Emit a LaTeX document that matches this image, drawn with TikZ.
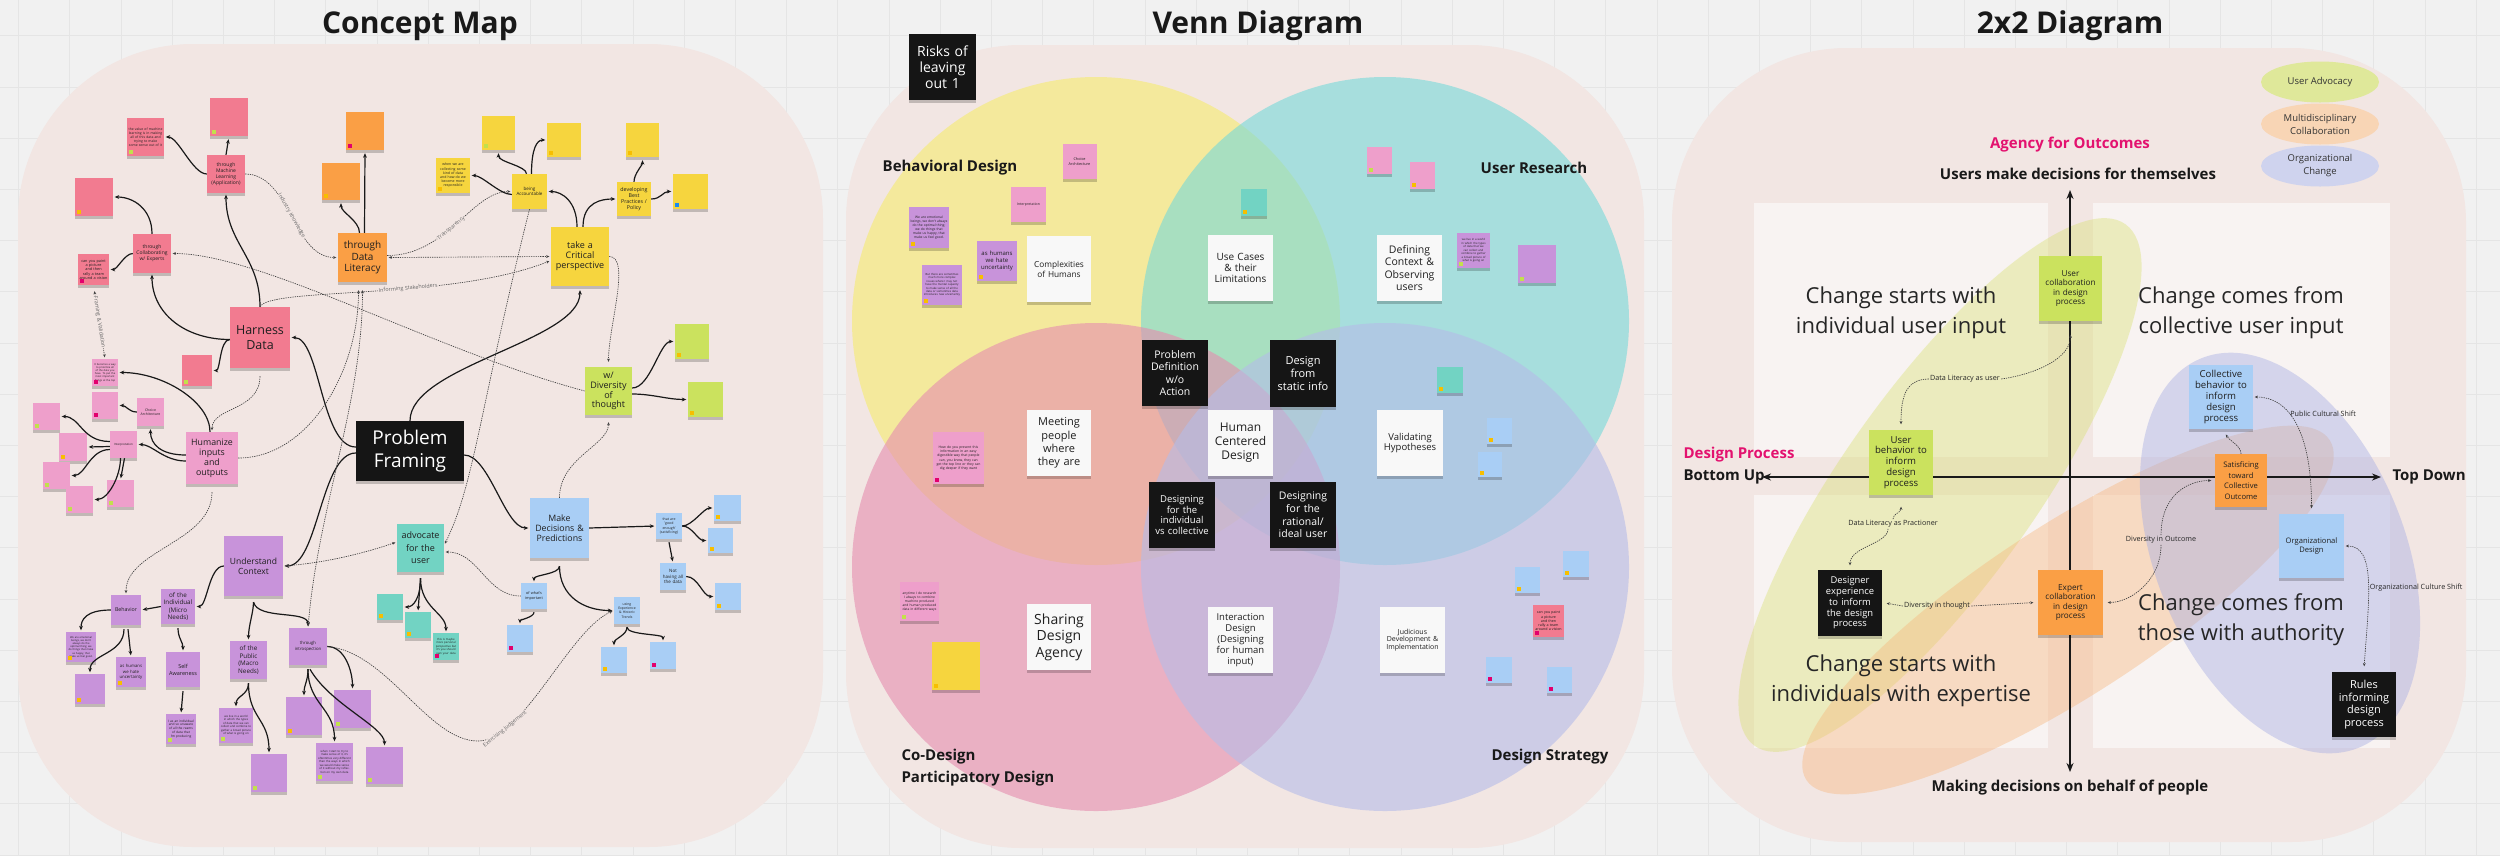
\documentclass[tikz,border=0pt]{standalone}
\usepackage{fontspec}
\setmainfont{Open Sans}
\usetikzlibrary{arrows.meta,shadows,shapes.geometric}
\definecolor{bgc}{HTML}{F1F1F1}
\definecolor{gridc}{HTML}{E5E5E5}
\definecolor{panel}{HTML}{F2E6E3}
\definecolor{cR}{HTML}{F27B90}
\definecolor{cLP}{HTML}{EE9FCB}
\definecolor{cO}{HTML}{FA9F45}
\definecolor{cY}{HTML}{F6D53E}
\definecolor{cL}{HTML}{CBE25E}
\definecolor{cP}{HTML}{C893DA}
\definecolor{cT}{HTML}{72D3C3}
\definecolor{cB}{HTML}{A9CEF5}
\definecolor{cK}{HTML}{151515}
\definecolor{cW}{HTML}{F8F8F8}
\definecolor{tY}{HTML}{F7BE00}
\definecolor{tG}{HTML}{C2E04C}
\definecolor{tM}{HTML}{E2006D}
\definecolor{tB}{HTML}{1C8BF0}
\definecolor{mag}{HTML}{E3126F}
\definecolor{vY}{HTML}{F6EB6E}
\definecolor{vT}{HTML}{76D9D9}
\definecolor{vP}{HTML}{E58CAF}
\definecolor{vL}{HTML}{B5BCE8}
\definecolor{quad}{HTML}{F8F3F2}
\definecolor{eL}{HTML}{D8E070}
\definecolor{eO}{HTML}{F7B57A}
\definecolor{eV}{HTML}{A9AFE3}
\definecolor{lgL}{HTML}{DFE89A}
\definecolor{lgO}{HTML}{F8D5B5}
\definecolor{lgV}{HTML}{CFD3EE}
\tikzset{
 stk/.style={inner sep=0pt,align=center,text=black!88,drop shadow={shadow xshift=0pt,shadow yshift=-2.5pt,opacity=0.2,fill=black}},
 sol/.style={line width=1.2pt,black!90,-{Stealth[length=4.5pt,width=3.8pt]},shorten >=1.5pt},
 dsh/.style={line width=0.65pt,black!75,dash pattern=on 1.3pt off 1pt},
 da/.style={dsh,-{Stealth[length=3.2pt,width=2.8pt]},shorten >=1.5pt},
 dab/.style={dsh,{Stealth[length=3.2pt,width=2.8pt]}-{Stealth[length=3.2pt,width=2.8pt]},shorten >=1.5pt,shorten <=1.5pt},
 dra/.style={dsh,{Stealth[length=3.2pt,width=2.8pt]}-,shorten <=1.5pt},
 lbl/.style={font={\fontsize{5.4}{6}\selectfont},text=black!60,fill=panel,inner sep=0.6pt},
 ltwo/.style={font={\fontsize{7.2}{8}\selectfont},text=black!85,inner sep=1.2pt},
 ttl/.style={font={\fontsize{30}{34}\selectfont\bfseries},text=black!90},
 hdb/.style={font={\fontsize{15}{18}\selectfont\bfseries},text=black!90},
 big/.style={font={\fontsize{22}{30}\selectfont},align=center,text=black!85},
 axarr/.style={line width=1.8pt,black!90,{Stealth[length=9pt,width=7pt]}-{Stealth[length=9pt,width=7pt]}},
 lg/.style={ellipse,minimum width=118pt,minimum height=41pt,inner sep=0pt,align=center,font={\fontsize{9.5}{13}\selectfont},text=black!80},
}
\newcommand{\stk}[9]{\pgfmathsetmacro{\tw}{#4-3}\node[stk,fill=#6,minimum width=#4pt,minimum height=#5pt,text width=\tw pt,font={\fontsize{#7}{#8}\selectfont}] (#1) at (#2,#3) {#9};}
\newcommand{\bstk}[8]{\pgfmathsetmacro{\tw}{#4-3}\node[stk,fill=cK,text=white,minimum width=#4pt,minimum height=#5pt,text width=\tw pt,font={\fontsize{#6}{#7}\selectfont}] (#1) at (#2,#3) {#8};}
\newcommand{\tg}[2]{\fill[#2] ([xshift=2.5pt,yshift=2.5pt]#1.south west) rectangle ++(4,-4);}
\newcommand{\tstk}[8]{\stk{#1}{#2}{#3}{#4}{#5}{#6}{2.8}{3.4}{#8}\tg{#1}{#7}}
\begin{document}
\begin{tikzpicture}[x=1pt,y=-1pt]
\useasboundingbox (0,0) rectangle (2500,855);
\fill[bgc] (0,0) rectangle (2500,855);
\foreach \i in {0,...,48} {\draw[gridc,line width=0.6pt] ({18.5+\i*51.2},0) -- ({18.5+\i*51.2},855);}
\foreach \j in {0,...,16} {\draw[gridc,line width=0.6pt] (0,{35.6+\j*51.2}) -- (2500,{35.6+\j*51.2});}
% panels
\fill[panel,rounded corners=175pt] (18,44) rectangle (823,847);
\fill[panel,rounded corners=175pt] (846,45) rectangle (1644,848);
\fill[panel,rounded corners=175pt] (1672,48) rectangle (2466,842);
% titles
\node[ttl] (t1) at (420,26) {Concept Map};
\node[ttl] (t2) at (1258,26) {Venn Diagram};
\node[ttl] (t3) at (2070,26) {2x2 Diagram};

%% ================= CONCEPT MAP =================
\tstk{n1}{229}{117}{38}{38}{cR}{tG}{}
\stk{n2}{145.5}{137}{37}{38}{cR}{3.4}{4.1}{the value of machine learning is in making all of this data and trying to make some sense out of it}\tg{n2}{tG}
\stk{ml}{226}{174}{38}{38}{cR}{5}{6}{through\\Machine\\Learning\\(Application)}
\tstk{n4}{94}{197}{38}{38}{cR}{tY}{}
\stk{collab}{152}{253.5}{38}{39}{cR}{5}{6}{through\\Collaborating\\w/ Experts}
\stk{n6}{93.5}{269.5}{31}{31}{cR}{3.8}{4.4}{can you paint a picture and then rally a team around a vision}\tg{n6}{tM}
\tstk{n7}{365}{131}{38}{38}{cO}{tM}{}
\tstk{n8}{341}{181.5}{38}{37}{cO}{tY}{}
\stk{dl}{362.5}{257.5}{49}{49}{cO}{10}{11.5}{through\\Data\\Literacy}
\tstk{n10}{498.5}{133}{33}{34}{cY}{tG}{}
\tstk{n11}{564}{140}{34}{34}{cY}{tY}{}
\stk{n12}{453}{175.5}{34}{35}{cY}{3.5}{4.2}{when we are collecting some kind of data and how do we become more responsible}\tg{n12}{tY}
\stk{ba}{529.5}{191.5}{35}{35}{cY}{4.5}{5.5}{being\\Accountable}
\tstk{n14}{642.5}{140}{33}{34}{cY}{tY}{}
\stk{bp}{634}{199}{34}{34}{cY}{5.3}{6.2}{developing\\Best\\Practices /\\Policy}
\tstk{n16}{690.5}{191.5}{35}{35}{cY}{tB}{}
\stk{tcp}{580}{256.5}{58}{59}{cY}{9}{10}{take a\\Critical\\perspective}
\stk{hd}{260}{337.5}{60}{61}{cR}{12.5}{14.5}{Harness\\Data}
\tstk{n19}{197}{370.5}{30}{31}{cR}{tG}{}
\stk{n20}{105}{372.5}{26}{27}{cLP}{2.6}{3.2}{It becomes a way to prioritize all of the data you have. To put the most important things at the top}\tg{n20}{tM}
\tstk{n21}{105}{405.5}{26}{27}{cLP}{tM}{}
\stk{ca}{150.5}{412}{27}{28}{cLP}{3.5}{4.3}{Choice\\Architecture}
\tstk{n23}{46.5}{416.5}{27}{27}{cLP}{tG}{}
\stk{interp}{123.5}{444.5}{27}{27}{cLP}{2.9}{3.5}{Interpretation}
\tstk{n29}{73}{447}{28}{28}{cLP}{tY}{}
\tstk{n30}{56.5}{475.5}{27}{27}{cLP}{tG}{}
\tstk{n31}{79.5}{499.5}{27}{27}{cLP}{tG}{}
\tstk{n32}{120.5}{493.5}{27}{27}{cLP}{tG}{}
\stk{hum}{212}{458}{52}{52}{cLP}{8.8}{10}{Humanize\\inputs\\and\\outputs}
\bstk{pf}{410}{451}{108}{60}{19}{23}{Problem\\Framing}
\stk{div}{608.5}{391}{47}{48}{cL}{9}{9.8}{w/\\Diversity\\of\\thought}
\tstk{n24}{692}{341.5}{34}{35}{cL}{tY}{}
\tstk{n25}{705.5}{399.5}{35}{35}{cL}{tY}{}
\stk{uc}{253.5}{566}{59}{60}{cP}{8.5}{10}{Understand\\Context}
\stk{adv}{420.5}{548}{47}{48}{cT}{9}{12.5}{advocate\\for the\\user}
\stk{md}{559.5}{528}{59}{60}{cB}{8.8}{10}{Make\\Decisions \&\\Predictions}
\stk{ge}{669}{526}{26}{26}{cB}{3.5}{4.3}{that are\\'good\\enough'\\(satisficing)}
\tstk{n39}{727.5}{508}{27}{26}{cB}{tY}{}
\tstk{n40}{720.5}{540.5}{25}{25}{cB}{tY}{}
\stk{nh}{673}{576.5}{26}{27}{cB}{4.5}{5.6}{Not\\having all\\the data}
\tstk{n42}{728}{596.5}{26}{27}{cB}{tY}{}
\stk{wi}{534}{596}{26}{26}{cB}{3.8}{4.8}{of what's\\important}
\tstk{n44}{520}{638.5}{26}{27}{cB}{tM}{}
\stk{ue}{627}{610.5}{26}{27}{cB}{3.4}{4.3}{using\\Experience\\\& Historic\\Trends}
\tstk{n46}{614}{660}{26}{26}{cB}{tY}{}
\tstk{n47}{663}{655.5}{26}{27}{cB}{tM}{}
\tstk{n48}{390}{607}{26}{26}{cT}{tY}{}
\tstk{n49}{418}{625}{26}{26}{cT}{tY}{}
\stk{n50}{446}{646.5}{26}{27}{cT}{2.8}{3.4}{this is maybe more personal perspective but it's you should own your data}\tg{n50}{tM}
\stk{beh}{126}{610}{30}{30}{cP}{5.3}{6.5}{Behavior}
\stk{ind}{178}{606.5}{34}{35}{cP}{6.3}{7.4}{of the\\Individual\\(Micro\\Needs)}
\stk{n53}{81}{647}{30}{30}{cP}{2.6}{3.2}{We are emotional beings, we don't always do the optimal thing; we do things that make us happy, that make us feel good.}\tg{n53}{tY}
\tstk{n54}{90}{689}{30}{30}{cP}{tY}{}
\stk{n55}{131}{672}{30}{30}{cP}{4.3}{5.3}{as humans\\we hate\\uncertainty}\tg{n55}{tY}
\stk{sa}{183}{669.5}{34}{35}{cP}{5.5}{7}{Self\\Awareness}
\stk{n57}{181}{729}{30}{30}{cP}{3.2}{3.9}{I as an individual and so unaware of all the reams of data that I'm producing}\tg{n57}{tG}
\stk{pub}{248.5}{660}{37}{38}{cP}{6.3}{7.5}{of the\\Public\\(Macro\\Needs)}
\stk{intro}{308}{646.5}{38}{37}{cP}{4.3}{5.5}{through\\introspection}
\stk{n60}{236}{725.5}{34}{35}{cP}{2.8}{3.5}{we live in a world in which the types of data that we can collect and combine to gather a broad picture of what is going on}\tg{n60}{tG}
\tstk{n61}{269}{773}{36}{38}{cP}{tG}{}
\tstk{n62}{304}{716}{36}{38}{cP}{tY}{}
\tstk{n63}{352.5}{709}{37}{38}{cP}{tG}{}
\stk{n64}{334.5}{762}{37}{38}{cP}{2.8}{3.5}{when I start to try to make sense of it, it's oftentimes very different than the ways in which we would make sense of it without my reflection on my own data}\tg{n64}{tG}
\tstk{n65}{384.5}{765.5}{37}{37}{cP}{tG}{}

% solid connectors
\draw[sol,shorten >=3pt] (ml.north) -- (n1.south);
\draw[sol] (ml.west) .. controls +(-14,0) and +(14,0) .. (n2.east);
\draw[sol] (hd.north) .. controls +(0,-50) and +(0,50) .. (ml.south);
\draw[sol] ([yshift=-2pt]hd.west) .. controls +(-45,0) and +(0,40) .. (collab.south);
\draw[sol] ([yshift=-2pt]hd.west) .. controls +(-10,0) and +(8,0) .. (n19.east);
\draw[sol] (collab.north) .. controls +(0,-25) and +(20,0) .. (n4.east);
\draw[sol] (collab.west) .. controls +(-8,0) and +(8,0) .. (n6.east);
\draw[sol,shorten >=3pt] ([xshift=2pt]dl.north) -- (n7.south);
\draw[sol,shorten >=3pt] ([xshift=-3pt]dl.north) .. controls +(0,-12) and +(0,12) .. (n8.south);
\draw[sol] ([xshift=-3pt]tcp.north) .. controls +(0,-25) and +(15,0) .. (ba.east);
\draw[sol] ([xshift=3pt]tcp.north) .. controls +(0,-25) and +(-15,0) .. (bp.west);
\draw[sol] ([yshift=-3pt]ba.west) .. controls +(-12,0) and +(12,0) .. (n12.east);
\draw[sol,shorten >=3pt] ([xshift=-3pt]ba.north) .. controls +(0,-8) and +(0,12) .. (n10.south);
\draw[sol] ([xshift=2pt]ba.north) .. controls +(0,-25) and +(-10,0) .. (n11.west);
\draw[sol,shorten >=3pt] (bp.north) .. controls +(0,-8) and +(0,8) .. (n14.south);
\draw[sol] (bp.east) .. controls +(10,0) and +(-10,0) .. (n16.west);
\draw[sol] ([yshift=4pt]pf.west) .. controls +(-35,0) and +(30,0) .. (hd.east);
\draw[sol] ([yshift=-2pt]pf.west) .. controls +(-35,0) and +(35,0) .. (uc.east);
\draw[sol,shorten >=4pt] (pf.north) .. controls +(0,-55) and +(0,55) .. (tcp.south);
\draw[sol] ([yshift=-4pt]pf.east) .. controls +(25,0) and +(-25,0) .. (md.west);
\draw[sol] ([xshift=-2pt]hum.north) .. controls +(0,-30) and +(45,0) .. (n20.east);
\draw[sol,shorten >=3pt] ([yshift=3pt]hum.west) .. controls +(-25,0) and +(0,18) .. (ca.south);
\draw[sol] ([yshift=-3pt]hum.west) .. controls +(-22,0) and +(15,0) .. (interp.east);
\draw[sol] (ca.west) .. controls +(-8,0) and +(8,0) .. (n21.east);
\draw[sol] ([yshift=-2pt]interp.west) -- (n29.east);
\draw[sol] ([yshift=3pt]interp.west) .. controls +(-28,0) and +(20,0) .. (n23.east);
\draw[sol] ([yshift=-5pt]interp.west) .. controls +(-20,0) and +(15,0) .. (n30.east);
\draw[sol] ([xshift=-3pt]interp.south) .. controls +(0,18) and +(15,0) .. (n31.east);
\draw[sol] ([xshift=1pt]interp.south) -- (n32.north);
\draw[sol] (uc.west) .. controls +(-15,0) and +(12,0) .. (ind.east);
\draw[sol] ([yshift=-6pt]uc.south) .. controls +(0,10) and +(0,-15) .. (pub.north);
\draw[sol] ([yshift=-6pt]uc.south) .. controls +(5,18) and +(0,-18) .. (intro.north);
\draw[sol] (ind.west) -- (beh.east);
\draw[sol] ([yshift=-4pt]ind.south) .. controls +(0,10) and +(0,-10) .. (sa.north);
\draw[sol] (beh.west) .. controls +(-25,0) and +(0,-12) .. (n53.north);
\draw[sol] ([xshift=-2pt,yshift=-4pt]beh.south) .. controls +(0,25) and +(0,-20) .. (n54.north);
\draw[sol] ([xshift=2pt,yshift=-4pt]beh.south) -- (n55.north);
\draw[sol] ([yshift=-4pt]sa.south) -- (n57.north);
\draw[sol] ([yshift=-4pt]pub.south) .. controls +(0,12) and +(0,-12) .. (n60.north);
\draw[sol] ([yshift=-4pt]pub.south) .. controls +(0,35) and +(0,-35) .. (n61.north);
\draw[sol] ([yshift=-4pt]intro.south) .. controls +(0,12) and +(0,-12) .. (n62.north);
\draw[sol] (intro.east) .. controls +(18,0) and +(0,-18) .. (n63.north);
\draw[sol] ([yshift=-4pt]intro.south) .. controls +(0,35) and +(0,-35) .. (n64.north);
\draw[sol] ([xshift=2pt,yshift=-4pt]intro.south) .. controls +(20,35) and +(0,-20) .. (n65.north);
\draw[sol] ([yshift=-6pt]adv.south) .. controls +(0,20) and +(10,0) .. (n48.east);
\draw[sol] ([yshift=-6pt]adv.south) -- (n49.north);
\draw[sol] ([yshift=-6pt]adv.south) .. controls +(0,30) and +(0,-20) .. (n50.north);
\draw[sol] (md.east) -- (ge.west);
\draw[sol] (ge.east) .. controls +(10,0) and +(-10,0) .. (n39.west);
\draw[sol] (ge.east) .. controls +(10,0) and +(-10,0) .. (n40.west);
\draw[sol] ([yshift=-3pt]ge.south) -- (nh.north);
\draw[sol] (nh.east) .. controls +(12,0) and +(-12,0) .. (n42.west);
\draw[sol] ([yshift=-8pt]md.south) .. controls +(0,8) and +(0,-8) .. (wi.north);
\draw[sol] ([yshift=-8pt]md.south) .. controls +(0,30) and +(-30,0) .. (ue.west);
\draw[sol] ([yshift=-3pt]wi.south) .. controls +(0,5) and +(0,-5) .. (n44.north);
\draw[sol] ([yshift=-3pt]ue.south) .. controls +(0,8) and +(0,-8) .. (n46.north);
\draw[sol] ([yshift=-3pt]ue.south) .. controls +(0,8) and +(0,-8) .. (n47.north);
\draw[sol] ([yshift=3pt]div.east) .. controls +(18,0) and +(-15,0) .. (n24.west);
\draw[sol] ([yshift=-3pt]div.east) .. controls +(20,0) and +(-20,0) .. (n25.west);

% dashed connectors
\draw[da] (ml.east) .. controls +(45,0) and +(-45,0) .. node[lbl,sloped,pos=0.5]{Industry Knowledge} (dl.west);
\draw[dra] (collab.east) .. controls +(90,0) and +(-150,-40) .. (div.west);
\draw[dab] (dl.east) -- (tcp.west);
\draw[da] ([yshift=2pt]dl.east) .. controls +(60,0) and +(-40,0) .. node[lbl,sloped,pos=0.45]{Transparency} (ba.west);
\draw[da] (hd.north) .. controls +(10,-20) and +(-100,40) .. node[lbl,sloped,pos=0.6]{Informing Stakeholders} ([yshift=-4pt]tcp.west);
\draw[da,shorten >=5pt] (tcp.east) .. controls +(22,0) and +(0,-40) .. (div.north);
\draw[da] (ba.south) .. controls +(-50,200) and +(30,-60) .. ([yshift=3pt]adv.east);
\draw[dab,shorten <=8pt] (dl.south) .. controls +(0,120) and +(10,-120) .. (intro.north);
\draw[da,shorten >=8pt] (hum.east) .. controls +(70,0) and +(0,90) .. ([xshift=-4pt]dl.south);
\draw[da] ([yshift=-8pt]hd.south) .. controls +(0,35) and +(0,-25) .. (hum.north);
\draw[da] ([yshift=-8pt]hum.south) .. controls +(0,50) and +(0,-45) .. (beh.north);
\draw[dab,shorten <=6pt] (n6.south) -- node[lbl,sloped]{Framing \& Validation} (n20.north);
\draw[dab] (uc.east) .. controls +(40,-3) and +(-35,12) .. ([yshift=6pt]adv.west);
\draw[dra] ([yshift=-4pt]adv.east) .. controls +(35,0) and +(-35,0) .. (wi.west);
\coordinate (jd) at (478,741);
\draw[dsh] (intro.east) .. controls +(60,5) and +(-50,0) .. (jd);
\draw[da] (jd) .. controls +(45,0) and +(-45,20) .. node[lbl,sloped,pos=0.2]{Exercising Judgement} (ue.west);
\draw[da,shorten >=7pt] (md.north) .. controls +(0,-40) and +(0,30) .. (div.south);

%% ================= VENN =================
\fill[vY,fill opacity=0.6] (1096,321) circle[radius=244];
\fill[vT,fill opacity=0.6] (1385,321) circle[radius=244];
\fill[vP,fill opacity=0.6] (1096,567) circle[radius=244];
\fill[vL,fill opacity=0.6] (1385,567) circle[radius=244];
\bstk{risk}{942.5}{67}{67}{66}{14}{16}{Risks of\\leaving\\out 1}
\node[hdb] (vbd) at (950,168) {Behavioral Design};
\node[hdb] (vur) at (1534,168) {User Research};
\node[hdb,anchor=west] (vcd) at (898,757) {Co-Design};
\node[hdb,anchor=west] (vpd) at (898,779) {Participatory Design};
\node[hdb] (vds) at (1550,757) {Design Strategy};
\stk{ca2}{1079.5}{161.5}{34}{35}{cLP}{3.8}{4.8}{Choice\\Architecture}
\stk{int2}{1028.5}{204.5}{35}{35}{cLP}{3.5}{4.3}{Interpretation}
\stk{v1}{929}{227.5}{40}{41}{cP}{3.3}{4}{We are emotional beings, we don't always do the optimal thing; we do things that make us happy, that make us feel good.}\tg{v1}{tY}
\stk{v2}{997}{261}{40}{40}{cP}{6}{7}{as humans\\we hate\\uncertainty}\tg{v2}{tY}
\stk{v3}{942}{285}{40}{40}{cP}{2.8}{3.4}{But there are sometimes much more complex issues where I may not have the mental capacity to make sense of all the data or sometimes data introduces new uncertainty}\tg{v3}{tY}
\tstk{v4}{1254}{202.5}{26}{27}{cT}{tY}{}
\tstk{v5}{1379.5}{160.5}{25}{27}{cLP}{tG}{}
\tstk{v6}{1422.5}{175.5}{25}{27}{cLP}{tY}{}
\stk{v7}{1473.5}{250.5}{33}{35}{cP}{2.8}{3.5}{we live in a world in which the types of data that we can collect and combine to gather a broad picture of what is going on}\tg{v7}{tG}
\tstk{v8}{1537}{264}{38}{38}{cP}{tG}{}
\tstk{v9}{1450}{380}{26}{26}{cT}{tY}{}
\tstk{v10}{1499.5}{431}{25}{26}{cB}{tY}{}
\tstk{v11}{1490}{464.5}{24}{25}{cB}{tY}{}
\tstk{v12}{1576}{564}{26}{26}{cB}{tY}{}
\tstk{v13}{1527.5}{580}{25}{26}{cB}{tY}{}
\stk{v14}{1548.5}{621}{31}{32}{cR}{3.6}{4.3}{can you paint a picture and then rally a team around a vision}\tg{v14}{tM}
\tstk{v15}{1499}{670}{26}{26}{cB}{tM}{}
\tstk{v16}{1559.5}{680}{25}{26}{cB}{tM}{}
\stk{v17}{958.5}{458}{51}{52}{cLP}{3.4}{4.3}{How do you present this information in an easy digestible way that people can, you know, they can get the top line or they can dig deeper if they want}\tg{v17}{tM}
\stk{v18}{919.5}{601.5}{39}{39}{cLP}{3.3}{4.1}{anytime I do research I always to combine machine produced and human produced data in different ways}\tg{v18}{tG}
\tstk{v19}{956}{666}{48}{48}{cY}{tY}{}
\stk{cplx}{1059}{269}{64}{66}{cW}{8.3}{10}{Complexities\\of Humans}
\stk{usec}{1240.5}{268}{65}{66}{cW}{10}{11.2}{Use Cases\\\& their\\Limitations}
\stk{defc}{1409.5}{268}{65}{66}{cW}{10.5}{12.5}{Defining\\Context \&\\Observing\\users}
\bstk{pdef}{1175}{373}{66}{66}{10.5}{12.6}{Problem\\Definition\\w/o\\Action}
\bstk{dsta}{1303}{373.5}{66}{67}{11}{13}{Design\\from\\static info}
\stk{meet}{1059}{443}{64}{66}{cW}{11}{13.3}{Meeting\\people\\where\\they are}
\stk{hcd}{1240.5}{443}{65}{66}{cW}{12}{14}{Human\\Centered\\Design}
\stk{valh}{1410}{443}{66}{66}{cW}{9.5}{10.7}{Validating\\Hypotheses}
\bstk{dind}{1182}{515}{66}{66}{9.5}{10.7}{Designing\\for the\\individual\\vs collective}
\bstk{drat}{1303}{515}{66}{66}{10.5}{12.6}{Designing\\for the\\rational/\\ideal user}
\stk{shar}{1059}{637}{64}{66}{cW}{14}{16.5}{Sharing\\Design\\Agency}
\stk{intd}{1240.5}{640}{65}{66}{cW}{9.5}{11}{Interaction\\Design\\(Designing\\for human\\input)}
\stk{judi}{1412.5}{640}{65}{66}{cW}{7}{7.8}{Judicious\\Development \&\\Implementation}

%% ================= 2x2 =================
\fill[quad] (1754,203) rectangle (2048,457);
\fill[quad] (2093,203) rectangle (2390,457);
\fill[quad] (1754,495) rectangle (2048,748);
\fill[quad] (2093,495) rectangle (2390,748);
\fill[eL,fill opacity=0.4,rotate around={54.6:(1940,485)}] (1940,485) ellipse [x radius=320,y radius=97];
\fill[eO,fill opacity=0.4,rotate around={33:(2068,610)}] (2068,610) ellipse [x radius=312,y radius=85];
\fill[eV,fill opacity=0.45,rotate around={-68:(2280,553)}] (2280,553) ellipse [x radius=210,y radius=125];
\node[lg,fill=lgL] (lg1) at (2320,82) {User Advocacy};
\node[lg,fill=lgO] (lg2) at (2320,124) {Multidisciplinary\\Collaboration};
\node[lg,fill=lgV] (lg3) at (2320,166) {Organizational\\Change};
\node[hdb,text=mag] (ag) at (2070,145) {Agency for Outcomes};
\node[hdb] (umd) at (2078,174) {Users make decisions for themselves};
\node[hdb] (mdb) at (2070,788) {Making decisions on behalf of people};
\node[hdb,text=mag,anchor=west] (dp) at (1680,455) {Design Process};
\node[hdb,anchor=west] (bu) at (1680,477) {Bottom Up};
\node[hdb,anchor=west] (tdn) at (2389,477) {Top Down};
\coordinate (vt) at (2070,190);
\coordinate (vb) at (2070,772);
\coordinate (hl) at (1762,477);
\coordinate (hr) at (2381,477);
\draw[axarr] (vb) -- (vt);
\draw[axarr] (hl) -- (hr);
\node[big] (q1) at (1901,313) {Change starts with\\individual user input};
\node[big] (q2) at (2241,313) {Change comes from\\collective user input};
\node[big] (q3) at (1901,681) {Change starts with\\individuals with expertise};
\node[big] (q4) at (2241,620) {Change comes from\\those with authority};
\stk{uc2}{2070.5}{288.5}{63}{65}{cL}{8.2}{9.6}{User\\collaboration\\in design\\process}
\stk{cb}{2221}{397}{64}{64}{cB}{9.6}{10.8}{Collective\\behavior to\\inform\\design\\process}
\stk{ub}{1901}{462.5}{64}{65}{cL}{9.6}{10.8}{User\\behavior to\\inform\\design\\process}
\stk{sat}{2241}{480.5}{52}{53}{cO}{7.6}{10.5}{Satisficing\\toward\\Collective\\Outcome}
\stk{od}{2311.5}{546}{65}{64}{cB}{7.6}{9}{Organizational\\Design}
\bstk{de}{1850}{603}{64}{66}{9.4}{10.7}{Designer\\experience\\to inform\\the design\\process}
\stk{ec}{2070.5}{602.5}{65}{65}{cO}{8.2}{9.5}{Expert\\collaboration\\in design\\process}
\bstk{rules}{2364}{704.5}{64}{65}{11}{12.5}{Rules\\informing\\design\\process}
\node[ltwo] (L1) at (1965,379) {Data Literacy as user};
\draw[da] (L1.east) .. controls +(35,-5) and +(0,25) .. ([yshift=-12pt]uc2.south);
\draw[da] (L1.west) .. controls +(-25,0) and +(0,-25) .. ([yshift=4pt]ub.north);
\node[ltwo] (L2) at (1893,524) {Data Literacy as Practioner};
\draw[da] (L2.north) .. controls +(0,-6) and +(0,8) .. ([yshift=-10pt]ub.south);
\draw[da] ([xshift=-5pt]L2.south) .. controls +(0,15) and +(0,-20) .. ([yshift=3pt]de.north);
\node[ltwo] (L3) at (1937,606) {Diversity in thought};
\draw[da] (L3.west) -- ([xshift=3pt]de.east);
\draw[da] (L3.east) -- ([xshift=-3pt]ec.west);
\node[ltwo] (L4) at (2161,540) {Diversity in Outcome};
\draw[da] (L4.south) .. controls +(0,35) and +(25,0) .. ([xshift=3pt]ec.east);
\draw[da] (L4.north) .. controls +(0,-40) and +(-25,0) .. ([xshift=-2pt]sat.west);
\draw[da] (sat.north) .. controls +(0,-8) and +(5,8) .. ([xshift=4pt,yshift=-4pt]cb.south);
\draw[dab] (cb.east) .. controls +(35,0) and +(0,-80) .. node[ltwo,right,pos=0.4]{Public Cultural Shift} ([yshift=4pt]od.north);
\draw[dab] (od.east) .. controls +(32,0) and +(5,-70) .. node[ltwo,right,pos=0.55]{Organizational Culture Shift} ([yshift=4pt]rules.north);
\end{tikzpicture}
\end{document}
